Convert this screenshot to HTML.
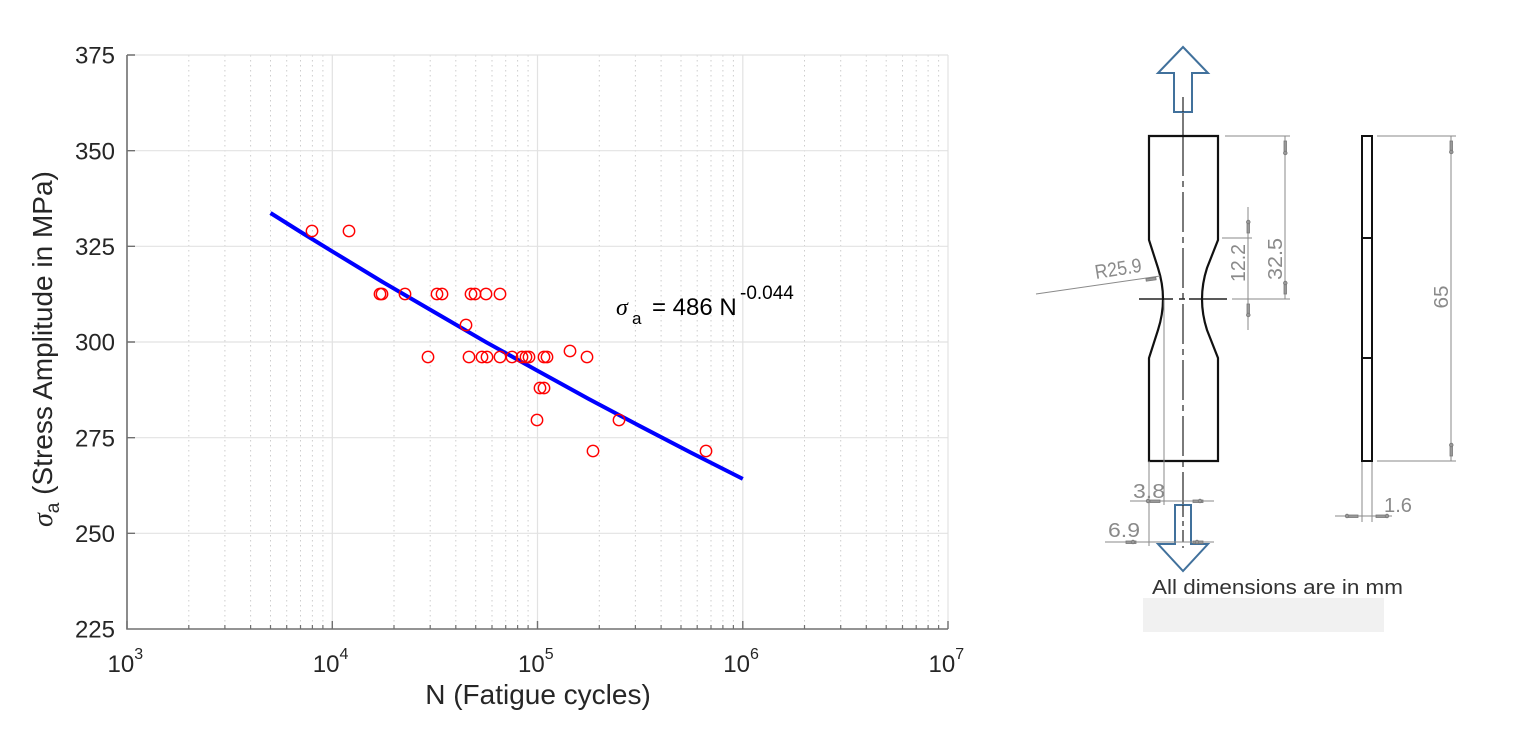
<!DOCTYPE html>
<html><head><meta charset="utf-8"><style>
html,body{margin:0;padding:0;background:#fff;}
svg{display:block;}
</style></head><body>
<svg width="1516" height="735" viewBox="0 0 1516 735" xmlns="http://www.w3.org/2000/svg" font-family="Liberation Sans, Arial, sans-serif">
<rect width="1516" height="735" fill="#fff"/>
<!-- minor vertical grid -->
<path d="M188.8 55V629M224.9 55V629M250.6 55V629M270.5 55V629M286.7 55V629M300.5 55V629M312.4 55V629M322.9 55V629
M394 55V629M430.2 55V629M455.8 55V629M475.7 55V629M492 55V629M505.7 55V629M517.6 55V629M528.1 55V629
M599.3 55V629M635.4 55V629M661.1 55V629M681 55V629M697.2 55V629M711 55V629M722.9 55V629M733.4 55V629
M804.5 55V629M840.7 55V629M866.3 55V629M886.2 55V629M902.5 55V629M916.2 55V629M928.1 55V629M938.6 55V629" stroke="#cdcdcd" stroke-width="1" stroke-dasharray="1.5 3.5" fill="none"/>
<!-- major grid -->
<path d="M332.3 55V629M537.5 55V629M742.8 55V629M948 55V629M127 55H948M127 150.7H948M127 246.3H948M127 342H948M127 437.7H948M127 533.3H948" stroke="#e2e2e2" stroke-width="1.2" fill="none"/>
<!-- axes -->
<path d="M127 55V629H948" stroke="#707070" stroke-width="1.6" fill="none"/>
<!-- y ticks -->
<path d="M127 55H135M127 150.7H135M127 246.3H135M127 342H135M127 437.7H135M127 533.3H135" stroke="#707070" stroke-width="1.4"/>
<!-- x ticks -->
<path d="M127 629V621M332.3 629V621M537.5 629V621M742.8 629V621M948 629V621" stroke="#707070" stroke-width="1.4"/>
<path d="M188.8 629V625M224.9 629V625M250.6 629V625M270.5 629V625M286.7 629V625M300.5 629V625M312.4 629V625M322.9 629V625
M394 629V625M430.2 629V625M455.8 629V625M475.7 629V625M492 629V625M505.7 629V625M517.6 629V625M528.1 629V625
M599.3 629V625M635.4 629V625M661.1 629V625M681 629V625M697.2 629V625M711 629V625M722.9 629V625M733.4 629V625
M804.5 629V625M840.7 629V625M866.3 629V625M886.2 629V625M902.5 629V625M916.2 629V625M928.1 629V625M938.6 629V625" stroke="#707070" stroke-width="1.2"/>
<!-- y labels -->
<g font-size="24" fill="#262626" text-anchor="end">
<text x="115" y="63.6">375</text>
<text x="115" y="159.3">350</text>
<text x="115" y="254.9">325</text>
<text x="115" y="350.6">300</text>
<text x="115" y="446.3">275</text>
<text x="115" y="541.9">250</text>
<text x="115" y="637.6">225</text>
</g>
<!-- x labels -->
<g font-size="24" fill="#262626">
<text x="107.5" y="672">10<tspan font-size="16" dy="-13">3</tspan></text>
<text x="312.8" y="672">10<tspan font-size="16" dy="-13">4</tspan></text>
<text x="518" y="672">10<tspan font-size="16" dy="-13">5</tspan></text>
<text x="723.3" y="672">10<tspan font-size="16" dy="-13">6</tspan></text>
<text x="928.5" y="672">10<tspan font-size="16" dy="-13">7</tspan></text>
</g>
<text x="538" y="704" font-size="28" fill="#262626" text-anchor="middle">N (Fatigue cycles)</text>
<g transform="translate(52,527) rotate(-90)" fill="#262626">
<text x="0" y="0" font-size="28"><tspan font-family="Liberation Serif, serif" font-style="italic">σ</tspan><tspan font-size="19" dy="7">a</tspan><tspan dy="-7"> (Stress Amplitude in MPa)</tspan></text>
</g>
<!-- regression line -->
<polyline points="270.5,213 301.5,232.5 332.3,251.4 383.6,282.6 435,312.5 486.3,342.3 537.5,370.7 588.8,399 640.1,426.2 691.4,452.9 742.8,478.9" fill="none" stroke="#0000ff" stroke-width="4" stroke-linejoin="round"/>
<!-- data points -->
<g fill="none" stroke="#ff0000" stroke-width="1.4">
<circle cx="312" cy="231" r="5.7"/><circle cx="349" cy="231" r="5.7"/>
<circle cx="380" cy="294" r="5.7"/><circle cx="382" cy="294" r="5.7"/><circle cx="405" cy="294" r="5.7"/><circle cx="437" cy="294" r="5.7"/><circle cx="442" cy="294" r="5.7"/><circle cx="471" cy="294" r="5.7"/><circle cx="475" cy="294" r="5.7"/><circle cx="486" cy="294" r="5.7"/><circle cx="500" cy="294" r="5.7"/>
<circle cx="466" cy="325" r="5.7"/>
<circle cx="428" cy="357" r="5.7"/><circle cx="469" cy="357" r="5.7"/><circle cx="482" cy="357" r="5.7"/><circle cx="487" cy="357" r="5.7"/><circle cx="500" cy="357" r="5.7"/><circle cx="512" cy="357" r="5.7"/><circle cx="522" cy="357" r="5.7"/><circle cx="526" cy="357" r="5.7"/><circle cx="529" cy="357" r="5.7"/><circle cx="544" cy="357" r="5.7"/><circle cx="547" cy="357" r="5.7"/><circle cx="587" cy="357" r="5.7"/>
<circle cx="570" cy="351" r="5.7"/>
<circle cx="540" cy="388" r="5.7"/><circle cx="544" cy="388" r="5.7"/>
<circle cx="537" cy="420" r="5.7"/><circle cx="619" cy="420" r="5.7"/>
<circle cx="593" cy="451" r="5.7"/><circle cx="706" cy="451" r="5.7"/>
</g>
<!-- equation -->
<g fill="#000">
<text x="616" y="315" font-size="24" font-family="Liberation Serif, serif" font-style="italic">σ</text>
<text x="632" y="324" font-size="17">a</text>
<text x="652" y="315" font-size="24">= 486 N</text>
<text x="740" y="299" font-size="19">-0.044</text>
</g>

<!-- ================= specimen drawing ================= -->
<line x1="1183" y1="97" x2="1183" y2="136" stroke="#333" stroke-width="1.3"/>
<line x1="1183" y1="136" x2="1183" y2="548" stroke="#333" stroke-width="1.3" stroke-dasharray="40 5 6 5"/>
<path d="M1139 299H1173M1179 299H1185M1189 299H1227" stroke="#222" stroke-width="1.5"/>
<path d="M1149 136H1218V240L1207 268Q1197 299 1207 330L1218 358V461H1149V358L1158 330Q1168 299 1158 268L1149 240Z" fill="none" stroke="#111" stroke-width="2.2" stroke-linejoin="miter"/>
<polygon points="1183,47 1208,73 1192,73 1192,112 1174,112 1174,73 1158,73" fill="#fff" stroke="#41719c" stroke-width="2"/>
<line x1="1183" y1="97" x2="1183" y2="112" stroke="#333" stroke-width="1.3"/>
<polygon points="1175,505 1191,505 1191,544 1208,544 1183,571 1158,544 1175,544" fill="#fff" stroke="#41719c" stroke-width="2"/>
<line x1="1183" y1="505" x2="1183" y2="548" stroke="#333" stroke-width="1.3" stroke-dasharray="12 4 5 4"/>

<g stroke="#8a8a8a" stroke-width="1" fill="none">
<path d="M1225 136H1290M1232 299H1290M1285 136V299"/>
<path d="M1222 238H1252M1248 207V330"/>
<path d="M1377 136H1456M1377 461H1456M1451 136V461"/>
<path d="M1362 461V522M1372 461V522M1335 516H1392"/>
<path d="M1149 461V546M1164 300V505M1130 501H1214M1105 542H1214"/>
<path d="M1036 294L1160 276"/>
</g>
<rect x="1362" y="136" width="10" height="325" fill="none" stroke="#111" stroke-width="2"/>
<path d="M1362 238H1372M1362 358H1372" stroke="#111" stroke-width="2"/>
<g fill="#999" stroke="#777" stroke-width="0.8">
<rect x="1284" y="141" width="2.5" height="11"/><circle cx="1285.3" cy="153" r="1.8"/>
<rect x="1284" y="283" width="2.5" height="11"/><circle cx="1285.3" cy="283" r="1.8"/>
<rect x="1247" y="222" width="2.5" height="11"/><circle cx="1248.3" cy="222" r="1.8"/>
<rect x="1247" y="304" width="2.5" height="11"/><circle cx="1248.3" cy="315" r="1.8"/>
<rect x="1450" y="141" width="2.5" height="11"/><circle cx="1451.3" cy="152" r="1.8"/>
<rect x="1450" y="445" width="2.5" height="11"/><circle cx="1451.3" cy="445" r="1.8"/>
<rect x="1347" y="515" width="11" height="2.5"/><circle cx="1347" cy="516" r="1.8"/>
<rect x="1376" y="515" width="11" height="2.5"/><circle cx="1387" cy="516" r="1.8"/>
<rect x="1150" y="500" width="10" height="2.5"/><circle cx="1148" cy="501" r="1.8"/>
<rect x="1193" y="500" width="10" height="2.5"/><circle cx="1200" cy="501" r="1.8"/>
<rect x="1126" y="541" width="10" height="2.5"/><circle cx="1133" cy="542" r="1.8"/>
<rect x="1193" y="541" width="10" height="2.5"/><circle cx="1197" cy="542" r="1.8"/>
<rect x="1146" y="278" width="10" height="2.5" transform="rotate(-8 1151 279)"/>
</g>
<g fill="#8a8a8a" font-size="20">
<text transform="translate(1282,259) rotate(-90)" text-anchor="middle" textLength="42" lengthAdjust="spacingAndGlyphs">32.5</text>
<text transform="translate(1245,263) rotate(-90)" text-anchor="middle" textLength="38" lengthAdjust="spacingAndGlyphs">12.2</text>
<text transform="translate(1448,297) rotate(-90)" text-anchor="middle" textLength="23" lengthAdjust="spacingAndGlyphs">65</text>
<text x="1133" y="498" textLength="32" lengthAdjust="spacingAndGlyphs">3.8</text>
<text x="1108" y="537" textLength="32" lengthAdjust="spacingAndGlyphs">6.9</text>
<text x="1384" y="512" textLength="28" lengthAdjust="spacingAndGlyphs">1.6</text>
<text transform="translate(1096,279) rotate(-9)" textLength="47" lengthAdjust="spacingAndGlyphs">R25.9</text>
</g>
<text x="1152" y="594" font-size="20" fill="#333" textLength="251" lengthAdjust="spacingAndGlyphs">All dimensions are in mm</text>
<rect x="1143" y="598" width="241" height="34" fill="#f1f1f1"/>
</svg>
</body></html>
